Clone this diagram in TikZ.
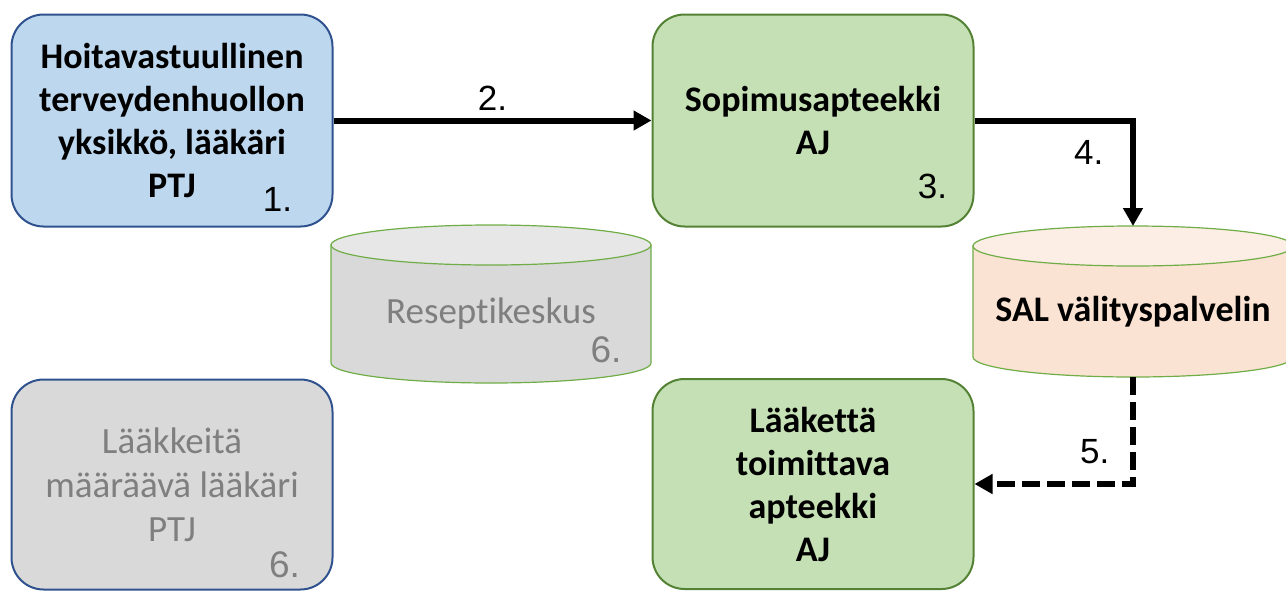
\documentclass[tikz,border=0pt]{standalone}
\usepackage{fontspec}
\setmainfont{Carlito}[Ligatures=NoCommon]
\newfontfamily\numfont{Liberation Sans}
\usepackage {tikz}
\usetikzlibrary {positioning}
\usetikzlibrary{calc}
\usetikzlibrary{arrows.meta}
\usetikzlibrary{backgrounds}
\definecolor{unitblue}{HTML}{BDD7EE}
\definecolor{unitline}{HTML}{2F528F}
\definecolor{pharmgreen}{HTML}{C5E0B4}
\definecolor{pharmline}{HTML}{548235}
\definecolor{passivegray}{HTML}{D9D9D9}
\definecolor{passivetext}{HTML}{7F7F7F}
\definecolor{dbline}{HTML}{70AD47}
\definecolor{resbody}{HTML}{D9D9D9}
\definecolor{restop}{HTML}{E7E7E7}
\definecolor{salbody}{HTML}{FAE3D3}
\definecolor{saltop}{HTML}{FCEEE4}
\tikzset{
    unit/.style = {rectangle, rounded corners=16pt, draw, line width=1pt,
        minimum width=160.5pt, minimum height=106pt, align=center,
        font=\bfseries\fontsize{18}{21.5}\selectfont},
    active/.style = {unit, fill=#1},
    passive/.style = {unit, fill=passivegray, draw=unitline, text=passivetext,
        minimum height=105pt, font=\fontsize{18.5}{22}\selectfont},
    db/.style = {rectangle, inner sep=0pt, outer sep=0pt, minimum width=160pt},
    numlabel/.style = {font=\numfont\fontsize{17.5}{20}\selectfont},
    graynum/.style = {text=passivetext, font=\numfont\fontsize{18.5}{22}\selectfont},
    flow/.style = {line width=3pt, -{Triangle[length=9pt,width=9.5pt]}}}
\begin{document}
\begin{tikzpicture}[auto ,node distance =1 cm and 2cm ,on grid]
    \useasboundingbox (0pt,0pt) rectangle (643pt,-295pt);
    \node (hoito) [active=unitblue, draw=unitline] at (86pt,-60.25pt)
        {Hoitavastuullinen\\terveydenhuollon\\yksikkö, lääkäri\\PTJ};
    \node (sopimus) [active=pharmgreen, draw=pharmline, right=320.5pt of hoito]
        {Sopimusapteekki\\AJ};
    \node (toimittava) [active=pharmgreen, draw=pharmline, minimum height=105pt,
        below=181.75pt of sopimus] {Lääkettä\\toimittava\\apteekki\\AJ};
    \node (maaraava) [passive, below=182pt of hoito]
        {Lääkkeitä\\määräävä lääkäri\\PTJ};
    \node (resepti) [db, minimum height=69pt, text=passivetext,
        font=\fontsize{18.5}{22}\selectfont,
        below right=96.75pt and 159.5pt of hoito] {Reseptikeskus};
    \node (sal) [db, minimum height=65.5pt,
        font=\bfseries\fontsize{18}{21.5}\selectfont,
        below right=95.5pt and 160pt of sopimus] {SAL välityspalvelin};
    % cylinders behind the two registers
    \begin{scope}[on background layer]
    \foreach \db/\body/\lid in {resepti/resbody/restop, sal/salbody/saltop} {
        \draw[dbline, line width=0.6pt, fill=\body] (\db.north west)
            -- ([yshift=10pt]\db.south west)
            arc[start angle=180, end angle=360, x radius=80pt, y radius=10pt]
            -- (\db.north east) -- cycle;
        \draw[dbline, line width=0.6pt, fill=\lid] (\db.north)
            ellipse[x radius=80pt, y radius=10pt];
    }
    \end{scope}
    % step numbers
    \node (n1) [numlabel] at ([xshift=-28pt,yshift=14pt]hoito.south east) {1.};
    \node (n3) [numlabel] at ([xshift=-21pt,yshift=20.5pt]sopimus.south east) {3.};
    \node (n6a) [graynum] at ([xshift=-22.5pt,yshift=16.5pt]resepti.south east) {6.};
    \node (n6b) [graynum] at ([xshift=-24.5pt,yshift=13pt]maaraava.south east) {6.};
    % message flow
    \draw[flow] (hoito) -- node[above, numlabel] {2.} (sopimus);
    \draw[flow] (sopimus) -| node[pos=0.65, left=10pt, numlabel] {4.}
        ([yshift=10pt]sal.north);
    \draw[flow, dash pattern=on 9pt off 3.5pt] (sal.south) |-
        node[pos=0.35, left=7pt, numlabel] {5.} (toimittava);
\end{tikzpicture}
\end{document}
